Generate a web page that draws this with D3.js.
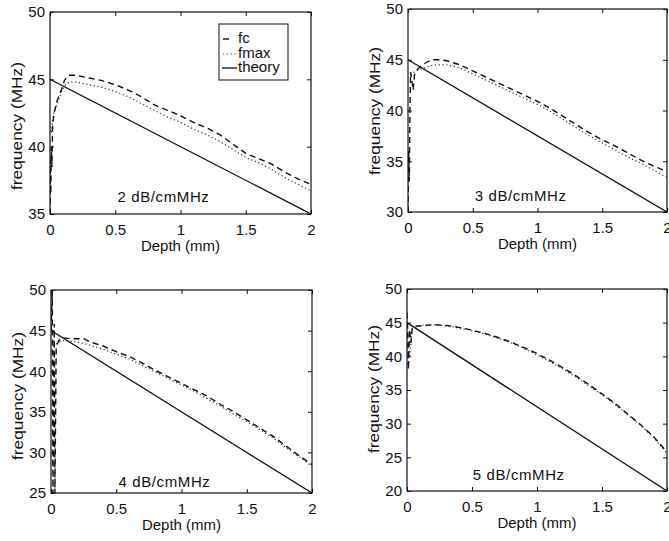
<!DOCTYPE html>
<html><head><meta charset="utf-8">
<script src="https://cdn.jsdelivr.net/npm/d3@7/dist/d3.min.js"></script>
<style>
body{margin:0;background:#fff}
svg{display:block}
text{font-family:"Liberation Sans",Arial,Helvetica,sans-serif;fill:#111}
</style>
</head><body>
<svg id="c" width="669" height="541"></svg>
<script>
// ---------- data ----------
const xTicks = [0, 0.5, 1, 1.5, 2];
const xTickLabels = ["0", "0.5", "1", "1.5", "2"];
const panelLabels = ["2 dB/cmMHz", "3 dB/cmMHz", "4 dB/cmMHz", "5 dB/cmMHz"];
const yDomains = [[35, 50], [30, 50], [25, 50], [20, 50]];
const yTicks2 = [35, 40, 45, 50];
const yTicks3 = [30, 35, 40, 45, 50];
const yTicks4 = [25, 30, 35, 40, 45, 50];
const yTicks5 = [20, 25, 30, 35, 40, 45, 50];
const legendNames = ["fc", "fmax", "theory"];

const theoryDepth = [0, 2];
const theory2 = [45, 35];
const theory3 = [45, 30];
const theory4 = [45, 25];
const theory5 = [45, 20];

// 2 dB/cmMHz
const fcDepth2 = [0, 0.003, 0.006, 0.01, 0.015, 0.02, 0.03, 0.04, 0.05, 0.07, 0.09, 0.11, 0.13, 0.15, 0.2, 0.25, 0.3, 0.4, 0.5, 0.6, 0.7, 0.8, 0.9, 1.0, 1.1, 1.2, 1.3, 1.4, 1.5, 1.6, 1.7, 1.8, 1.9, 2.0];
const fc2 = [35, 39, 36.5, 40, 38.5, 41.5, 42.5, 42.8, 43.3, 43.8, 44.3, 44.9, 45.2, 45.3, 45.3, 45.2, 45.1, 44.9, 44.6, 44.2, 43.7, 43.1, 42.7, 42.3, 41.8, 41.4, 40.9, 40.2, 39.5, 39.1, 38.7, 38.1, 37.6, 37.2];
const fmaxDepth2 = [0, 0.01, 0.02, 0.03, 0.05, 0.07, 0.09, 0.11, 0.13, 0.15, 0.2, 0.3, 0.4, 0.5, 0.6, 0.7, 0.8, 0.9, 1.0, 1.1, 1.2, 1.3, 1.4, 1.5, 1.6, 1.7, 1.8, 1.9, 2.0];
const fmax2 = [41.5, 41, 42, 42.6, 43, 43.6, 44.1, 44.5, 44.7, 44.8, 44.8, 44.6, 44.4, 44.1, 43.7, 43.2, 42.7, 42.2, 41.8, 41.3, 40.9, 40.4, 39.8, 39.2, 38.8, 38.3, 37.7, 37.2, 36.7];

// 3 dB/cmMHz
const fcDepth3 = [0, 0.005, 0.01, 0.015, 0.02, 0.03, 0.04, 0.05, 0.07, 0.1, 0.15, 0.2, 0.25, 0.3, 0.4, 0.5, 0.6, 0.7, 0.8, 0.9, 1.0, 1.1, 1.2, 1.3, 1.4, 1.5, 1.6, 1.7, 1.8, 1.9, 2.0];
const fc3 = [30, 36, 33, 40, 43.8, 43, 42, 43.5, 44, 44.4, 44.8, 45, 45, 44.9, 44.5, 43.9, 43.3, 42.7, 42.1, 41.5, 40.9, 40.2, 39.4, 38.6, 37.8, 37.1, 36.5, 35.8, 35.1, 34.5, 34.0];
const fmaxDepth3 = [0.02, 0.05, 0.1, 0.2, 0.3, 0.4, 0.5, 0.6, 0.7, 0.8, 0.9, 1.0, 1.1, 1.2, 1.3, 1.4, 1.5, 1.6, 1.7, 1.8, 1.9, 2.0];
const fmax3 = [43.5, 43.8, 44.1, 44.5, 44.5, 44.2, 43.6, 43.0, 42.4, 41.8, 41.2, 40.6, 39.9, 39.1, 38.3, 37.5, 36.8, 36.1, 35.4, 34.8, 34.1, 33.4];

// 4 dB/cmMHz
const fcDepth4 = [0, 0.01, 0.015, 0.025, 0.03, 0.04, 0.06, 0.1, 0.15, 0.2, 0.25, 0.3, 0.4, 0.5, 0.6, 0.7, 0.8, 0.9, 1.0, 1.1, 1.2, 1.3, 1.4, 1.5, 1.6, 1.7, 1.8, 1.9, 2.0];
const fc4 = [45, 50, 25, 45.8, 25, 43, 43.8, 44.1, 44.0, 44.0, 44.0, 43.6, 43.1, 42.4, 41.8, 41.0, 40.1, 39.3, 38.5, 37.7, 36.9, 35.9, 35.0, 34.0, 33.0, 32.0, 30.8, 29.6, 28.5];
const fmaxDepth4 = [0.02, 0.05, 0.1, 0.2, 0.3, 0.4, 0.5, 0.6, 0.7, 0.8, 0.9, 1.0, 1.1, 1.2, 1.3, 1.4, 1.5, 1.6, 1.7, 1.8, 1.9, 2.0];
const fmax4 = [43, 43.5, 43.8, 43.6, 43.2, 42.7, 42.1, 41.5, 40.7, 39.9, 39.1, 38.3, 37.5, 36.6, 35.7, 34.7, 33.8, 32.8, 31.8, 30.6, 29.5, 28.3];

// 5 dB/cmMHz
const fcDepth5 = [0, 0.005, 0.01, 0.02, 0.03, 0.04, 0.06, 0.1, 0.2, 0.3, 0.4, 0.5, 0.6, 0.7, 0.8, 0.9, 1.0, 1.1, 1.2, 1.3, 1.4, 1.5, 1.6, 1.7, 1.8, 1.9, 2.0];
const fc5 = [46.5, 44, 38, 44, 42, 44.2, 44.5, 44.5, 44.7, 44.6, 44.3, 43.9, 43.4, 42.8, 42.1, 41.3, 40.4, 39.4, 38.3, 37.1, 35.8, 34.4, 33.0, 31.4, 29.8, 28.0, 25.8];
const fmaxDepth5 = [0.02, 0.04, 0.1, 0.2, 0.3, 0.4, 0.5, 0.6, 0.7, 0.8, 0.9, 1.0, 1.1, 1.2, 1.3, 1.4, 1.5, 1.6, 1.7, 1.8, 1.9, 2.0];
const fmax5 = [40, 44, 44.6, 44.7, 44.5, 44.2, 43.8, 43.3, 42.7, 42.0, 41.2, 40.2, 39.2, 38.1, 36.9, 35.6, 34.3, 32.9, 31.3, 29.7, 27.9, 25.6];

// ---------- layout (positions only) ----------
const layout = [
  {x0: 50, x1: 311, y0: 12, y1: 214, lx: 0.87, ly: 35.89, yl: 126},
  {x0: 408, x1: 667, y0: 9, y1: 212, lx: 0.87, ly: 31.08, yl: 111},
  {x0: 51, x1: 312, y0: 290, y1: 493, lx: 0.87, ly: 25.74, yl: 396},
  {x0: 407, x1: 667, y0: 289, y1: 491, lx: 0.86, ly: 21.63, yl: 389}
];

const panels = [
  {label: panelLabels[0], yDom: yDomains[0], yT: yTicks2, fcD: fcDepth2, fc: fc2, fmD: fmaxDepth2, fm: fmax2, th: theory2},
  {label: panelLabels[1], yDom: yDomains[1], yT: yTicks3, fcD: fcDepth3, fc: fc3, fmD: fmaxDepth3, fm: fmax3, th: theory3},
  {label: panelLabels[2], yDom: yDomains[2], yT: yTicks4, fcD: fcDepth4, fc: fc4, fmD: fmaxDepth4, fm: fmax4, th: theory4},
  {label: panelLabels[3], yDom: yDomains[3], yT: yTicks5, fcD: fcDepth5, fc: fc5, fmD: fmaxDepth5, fm: fmax5, th: theory5}
];

const svg = d3.select("#c");
const FS = 15;

panels.forEach((p, i) => {
  const L = layout[i];
  const x = d3.scaleLinear().domain([0, 2]).range([L.x0, L.x1]);
  const y = d3.scaleLinear().domain(p.yDom).range([L.y1, L.y0]);
  const g = svg.append("g");
  const clipId = "clip" + i;
  g.append("clipPath").attr("id", clipId).append("rect")
    .attr("x", L.x0).attr("y", L.y0).attr("width", L.x1 - L.x0).attr("height", L.y1 - L.y0);

  const line = d3.line().x(d => x(d[0])).y(d => y(d[1]));
  const plot = g.append("g").attr("clip-path", `url(#${clipId})`);

  plot.append("path").datum(d3.zip(theoryDepth, p.th)).attr("d", line)
    .attr("fill", "none").attr("stroke", "#111").attr("stroke-width", 1.3);
  plot.append("path").datum(d3.zip(p.fmD, p.fm)).attr("d", line)
    .attr("fill", "none").attr("stroke", "#333").attr("stroke-width", 1.2)
    .attr("stroke-dasharray", "1.2,2.6");
  plot.append("path").datum(d3.zip(p.fcD, p.fc)).attr("d", line)
    .attr("fill", "none").attr("stroke", "#111").attr("stroke-width", 1.4)
    .attr("stroke-dasharray", "6,4");

  const ax = (a) => a.each(function(){ d3.select(this).select(".domain").remove(); });
  g.append("g").attr("transform", `translate(0,${L.y1})`)
    .call(d3.axisBottom(x).tickValues(xTicks).tickFormat((d, k) => xTickLabels[k]).tickSize(-4).tickPadding(10))
    .call(ax);
  g.append("g").attr("transform", `translate(0,${L.y0})`)
    .call(d3.axisTop(x).tickValues(xTicks).tickFormat("").tickSize(-4)).call(ax);
  g.append("g").attr("transform", `translate(${L.x0},0)`)
    .call(d3.axisLeft(y).tickValues(p.yT).tickFormat(d3.format("d")).tickSize(-4).tickPadding(5))
    .call(ax);
  g.append("g").attr("transform", `translate(${L.x1},0)`)
    .call(d3.axisRight(y).tickValues(p.yT).tickFormat("").tickSize(-4)).call(ax);
  g.selectAll(".tick line").attr("stroke", "#111").attr("stroke-width", 1);
  g.selectAll(".tick text").attr("font-size", FS).attr("fill", "#111")
    .attr("font-family", '"Liberation Sans",Arial,sans-serif');

  g.append("rect").attr("x", L.x0).attr("y", L.y0)
    .attr("width", L.x1 - L.x0).attr("height", L.y1 - L.y0)
    .attr("fill", "none").attr("stroke", "#111").attr("stroke-width", 1.2);

  g.append("text").attr("x", (L.x0 + L.x1) / 2).attr("y", L.y1 + 37)
    .attr("text-anchor", "middle").attr("font-size", FS).text("Depth (mm)");
  g.append("text")
    .attr("transform", `translate(${L.x0 - 34},${L.yl}) rotate(-90)`)
    .attr("text-anchor", "middle").attr("dominant-baseline", "central")
    .attr("font-size", FS).attr("textLength", 128).attr("lengthAdjust", "spacingAndGlyphs")
    .text("frequency (MHz)");
  g.append("text").attr("x", x(L.lx)).attr("y", y(L.ly))
    .attr("text-anchor", "middle").attr("font-size", FS).attr("letter-spacing", 0.6)
    .text(p.label);

  if (i === 0) {
    const lg = g.append("g");
    lg.append("rect").attr("x", 219).attr("y", 24).attr("width", 69).attr("height", 56)
      .attr("fill", "#fff").attr("stroke", "#111").attr("stroke-width", 1);
    const rows = [43, 58, 72];
    const styles = [
      {dash: "6,4", w: 1.4, c: "#111", x1: 223, x2: 231},
      {dash: "1.2,2.6", w: 1.2, c: "#333", x1: 223, x2: 237},
      {dash: null, w: 1.3, c: "#111", x1: 222, x2: 237}
    ];
    legendNames.forEach((n, k) => {
      const s = styles[k];
      lg.append("line").attr("x1", s.x1).attr("x2", s.x2)
        .attr("y1", rows[k] - 4).attr("y2", rows[k] - 4)
        .attr("stroke", s.c).attr("stroke-width", s.w)
        .attr("stroke-dasharray", s.dash);
      lg.append("text").attr("x", 238).attr("y", rows[k]).attr("font-size", FS).text(n);
    });
  }
});
</script>
</body></html>
